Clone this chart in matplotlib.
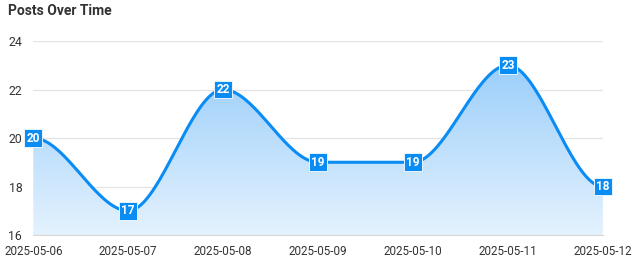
import numpy as np
import matplotlib
matplotlib.use("Agg")
import matplotlib.pyplot as plt
import matplotlib.dates as mdates
from matplotlib.patches import Polygon
import datetime as dt

plt.rcParams['font.family'] = ['Roboto', 'DejaVu Sans']

dates = ["2025-05-06", "2025-05-07", "2025-05-08", "2025-05-09",
         "2025-05-10", "2025-05-11", "2025-05-12"]
posts = [20, 17, 22, 19, 19, 23, 18]

line_color = "#0a8cf5"
grid_color = "#e3e3e3"
text_color = "#333333"


def smooth_curve(x, y, n=40):
    # cubic segments with flat tangents at each point
    x = np.asarray(x, float)
    y = np.asarray(y, float)
    xs, ys = [], []
    t = np.linspace(0, 1, n)
    ease = 3 * t**2 - 2 * t**3
    for i in range(len(x) - 1):
        xs.append(x[i] + t * (x[i + 1] - x[i]))
        ys.append(y[i] + ease * (y[i + 1] - y[i]))
    return np.concatenate(xs), np.concatenate(ys)


xd = mdates.date2num([dt.datetime.strptime(d, "%Y-%m-%d") for d in dates])
cx, cy = smooth_curve(xd, posts)

fig = plt.figure(figsize=(6.4, 2.68), dpi=100)
ax = fig.add_axes([0.052, 0.123, 0.89, 0.724])

ymin, ymax = 16, 24
ax.set_xlim(xd[0], xd[-1])
ax.set_ylim(ymin, ymax)

# gradient fill under curve
grad = np.linspace(0, 1, 256).reshape(-1, 1)
top = np.array(matplotlib.colors.to_rgb("#98cdfa"))
bot = np.array(matplotlib.colors.to_rgb("#e4f2fe"))
img = top * (1 - grad[..., None]) + bot * grad[..., None]
img = img.reshape(256, 1, 3)
im = ax.imshow(img, extent=[xd[0], xd[-1], ymin, max(posts) + 0.3], origin="upper",
               aspect="auto", zorder=1)
poly = Polygon(np.column_stack([np.r_[cx, xd[-1], xd[0]], np.r_[cy, ymin, ymin]]),
               closed=True, transform=ax.transData, facecolor="none", edgecolor="none")
ax.add_patch(poly)
im.set_clip_path(poly)

ax.plot(cx, cy, color=line_color, lw=2.2, zorder=3, solid_capstyle="round")

for x, v in zip(xd, posts):
    ax.text(x, v, str(v), ha="center", va="center", color="white", fontsize=8.5,
            fontweight="bold", zorder=5,
            bbox=dict(boxstyle="square,pad=0.2", fc=line_color, ec="#e8f4ff", lw=0.7))

ax.set_yticks([16, 18, 20, 22, 24])
ax.set_xticks(xd)
ax.set_xticklabels(dates)
ax.grid(axis="y", color=grid_color, lw=0.9)
ax.set_axisbelow(True)
for sp in ["top", "right", "left"]:
    ax.spines[sp].set_visible(False)
ax.spines["bottom"].set_color("#d8d8d8")
ax.tick_params(axis="y", length=0, pad=8, labelsize=8.8, labelcolor=text_color)
ax.tick_params(axis="x", length=0, pad=7, labelsize=8.4, labelcolor=text_color)

fig.text(0.012, 0.96, "Posts Over Time", fontsize=10, fontweight="bold",
         color=text_color, ha="left", va="center")

fig.savefig("out.png", dpi=100)
